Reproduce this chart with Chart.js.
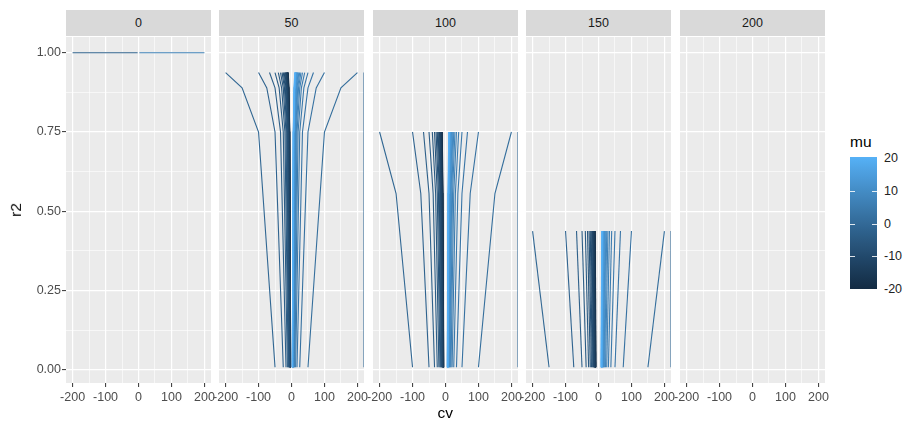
<!DOCTYPE html>
<html><head><meta charset="utf-8">
<script src="https://cdn.jsdelivr.net/npm/chart.js@4.4.0/dist/chart.umd.min.js"></script>
<style>
html,body{margin:0;padding:0;background:#fff;}
body{width:905px;height:424px;position:relative;overflow:hidden;font-family:'Liberation Sans',Arial,sans-serif;}
.pane{position:absolute;top:37px;}
.strip{position:absolute;top:10px;height:26px;line-height:26px;background:#D9D9D9;color:#1A1A1A;font-size:12.5px;text-align:center;}
.title{position:absolute;font-size:15.5px;color:#000;line-height:18px;white-space:nowrap;}
.leglab{position:absolute;left:884px;font-size:12.5px;color:#222;line-height:14px;height:14px;}
</style></head><body>
<script>
// ---------------- data ----------------
const facetLabels = ['0', '50', '100', '150', '200'];
const muNeg = [-20,-19,-18,-17,-16,-15,-14,-13,-12,-11,-10,-9,-8,-7,-6,-5,-4,-3,-2,-1];
const muPos = [1,2,3,4,5,6,7,8,9,10,11,12,13,14,15,16,17,18,19,20];
// cv of each mu line at the four vertices (rows follow muNeg / muPos)
const cvNegMu = [
  [-2.5,-5,-7.5,-10],[-2.6,-5.3,-7.9,-10.5],[-2.8,-5.6,-8.3,-11.1],[-2.9,-5.9,-8.8,-11.8],
  [-3.1,-6.3,-9.4,-12.5],[-3.3,-6.7,-10,-13.3],[-3.6,-7.1,-10.7,-14.3],[-3.8,-7.7,-11.5,-15.4],
  [-4.2,-8.3,-12.5,-16.7],[-4.5,-9.1,-13.6,-18.2],[-5,-10,-15,-20],[-5.6,-11.1,-16.7,-22.2],
  [-6.3,-12.5,-18.8,-25],[-7.1,-14.3,-21.4,-28.6],[-8.3,-16.7,-25,-33.3],[-10,-20,-30,-40],
  [-12.5,-25,-37.5,-50],[-16.7,-33.3,-50,-66.7],[-25,-50,-75,-100],[-50,-100,-150,-200]
];
const cvPosMu = [
  [50,100,150,200],[25,50,75,100],[16.7,33.3,50,66.7],[12.5,25,37.5,50],
  [10,20,30,40],[8.3,16.7,25,33.3],[7.1,14.3,21.4,28.6],[6.3,12.5,18.8,25],
  [5.6,11.1,16.7,22.2],[5,10,15,20],[4.5,9.1,13.6,18.2],[4.2,8.3,12.5,16.7],
  [3.8,7.7,11.5,15.4],[3.6,7.1,10.7,14.3],[3.3,6.7,10,13.3],[3.1,6.3,9.4,12.5],
  [2.9,5.9,8.8,11.8],[2.8,5.6,8.3,11.1],[2.6,5.3,7.9,10.5],[2.5,5,7.5,10]
];
// r2 of the four vertices in each facet (null = vertex not present)
const r2Facet50  = [0.008, 0.75, 0.889, 0.9375];
const r2Facet100 = [null, 0.008, 0.556, 0.75];
const r2Facet150 = [null, null, 0.008, 0.4375];
const r2Facet200 = [null, null, null, null];
// facet 0: horizontal lines at r2 = 1
const facet0Mu = [-3, 6];
const facet0CvStart = [-200, 2.5];
const facet0CvEnd = [-2.5, 200];
const facet0R2 = 1;
// mu = 0 gives cv = +Inf (drawn at the panel edge); r2 span per facet
const muZeroBottom = [null, 0.008, 0.008, 0.008, null];
const muZeroTop = [null, 0.9375, 0.75, 0.4375, null];
// axes
const xMajor = [-200, -100, 0, 100, 200];
const xMajorLabels = ['-200', '-100', '0', '100', '200'];
const xMinor = [-150, -50, 50, 150];
const yMajor = [0, 0.25, 0.5, 0.75, 1];
const yMajorLabels = ['0.00', '0.25', '0.50', '0.75', '1.00'];
const yMinor = [0.125, 0.375, 0.625, 0.875];
const xLimits = [-220, 220];
const yLimits = [-0.0416, 1.0496];
const legendBreaks = [20, 10, 0, -10, -20];
const muRange = [-20, 20];

// ---------------- colour (ggplot Lab gradient) ----------------
const LOW = '#132B43', HIGH = '#56B1F7';
function s2l(c){c/=255;return c<=0.04045?c/12.92:Math.pow((c+0.055)/1.055,2.4);}
function l2s(c){c=c<=0.0031308?12.92*c:1.055*Math.pow(c,1/2.4)-0.055;return Math.round(Math.max(0,Math.min(1,c))*255);}
function hexToLab(h){
  const r=s2l(parseInt(h.substr(1,2),16)),g=s2l(parseInt(h.substr(3,2),16)),b=s2l(parseInt(h.substr(5,2),16));
  let X=(0.4124*r+0.3576*g+0.1805*b)/0.95047,Y=(0.2126*r+0.7152*g+0.0722*b),Z=(0.0193*r+0.1192*g+0.9505*b)/1.08883;
  const f=t=>t>0.008856?Math.cbrt(t):7.787*t+16/116;
  const fx=f(X),fy=f(Y),fz=f(Z);
  return [116*fy-16,500*(fx-fy),200*(fy-fz)];
}
function labToHex(L,a,bb){
  const fy=(L+16)/116,fx=fy+a/500,fz=fy-bb/200;
  const fi=t=>{const t3=t*t*t;return t3>0.008856?t3:(t-16/116)/7.787;};
  const X=fi(fx)*0.95047,Y=fi(fy),Z=fi(fz)*1.08883;
  const r=3.2406*X-1.5372*Y-0.4986*Z,g=-0.9689*X+1.8758*Y+0.0415*Z,b=0.0557*X-0.2040*Y+1.0570*Z;
  return '#'+[r,g,b].map(v=>l2s(v).toString(16).padStart(2,'0')).join('');
}
const labLow=hexToLab(LOW), labHigh=hexToLab(HIGH);
function muColor(mu){
  const t=(mu-muRange[0])/(muRange[1]-muRange[0]);
  return labToHex(labLow[0]+(labHigh[0]-labLow[0])*t,labLow[1]+(labHigh[1]-labLow[1])*t,labLow[2]+(labHigh[2]-labLow[2])*t);
}

// ---------------- layout ----------------
const panelLefts = [66, 219, 373, 526, 680];
const panelW = 145, panelH = 346, axisH = 41, margin = 24;
Chart.defaults.font.family = "'Liberation Sans', Arial, sans-serif";
Chart.defaults.font.size = 12.5;

const bgPlugin = {
  id: 'panelBg',
  beforeDraw(chart){
    const a = chart.chartArea, c = chart.ctx;
    c.save(); c.fillStyle = '#EBEBEB'; c.fillRect(a.left, a.top, a.right - a.left, a.bottom - a.top); c.restore();
  }
};

function lineDs(points, mu){
  return {data: points, borderColor: muColor(mu), borderWidth: 1.1, pointRadius: 0,
          tension: 0, fill: false, order: -mu, clip: 0};
}

function buildDatasets(i){
  const ds = [];
  if (i === 0) {
    facet0Mu.forEach((mu, k) => ds.push(lineDs([{x: facet0CvStart[k], y: facet0R2}, {x: facet0CvEnd[k], y: facet0R2}], mu)));
    return ds;
  }
  const r2F = [null, r2Facet50, r2Facet100, r2Facet150, r2Facet200][i];
  const addRows = (mus, rows) => mus.forEach((mu, k) => {
    const pts = [];
    rows[k].forEach((cv, c) => { if (r2F[c] !== null) pts.push({x: cv, y: r2F[c]}); });
    if (pts.length > 1) ds.push(lineDs(pts, mu));
  });
  addRows(muNeg, cvNegMu);
  addRows(muPos, cvPosMu);
  if (muZeroTop[i] !== null) {
    ds.push(lineDs([{x: xLimits[1], y: muZeroBottom[i]}, {x: xLimits[1], y: muZeroTop[i]}], 0));
  }
  return ds;
}

function isMajor(v, arr){ return arr.some(m => Math.abs(m - v) < 1e-9); }

facetLabels.forEach((lab, i) => {
  const first = i === 0;
  const padL = first ? 0 : margin;
  const canvasLeft = first ? 0 : panelLefts[i] - margin;
  const yAxisW = first ? panelLefts[0] : 0;
  const w = padL + yAxisW + panelW + margin;
  const h = panelH + axisH;
  const div = document.createElement('div');
  div.className = 'pane';
  div.style.left = canvasLeft + 'px';
  div.style.width = w + 'px'; div.style.height = h + 'px';
  const cv = document.createElement('canvas');
  cv.width = w; cv.height = h;
  cv.style.width = w + 'px'; cv.style.height = h + 'px';
  div.appendChild(cv);
  document.body.appendChild(div);

  const strip = document.createElement('div');
  strip.className = 'strip';
  strip.style.left = panelLefts[i] + 'px'; strip.style.width = panelW + 'px';
  strip.textContent = lab;
  document.body.appendChild(strip);

  new Chart(cv, {
    type: 'line',
    data: {datasets: buildDatasets(i)},
    plugins: [bgPlugin],
    options: {
      responsive: false, animation: false, devicePixelRatio: 1, events: [],
      layout: {autoPadding: false, padding: {left: padL, right: margin, top: 0, bottom: 0}},
      plugins: {legend: {display: false}, tooltip: {enabled: false}},
      scales: {
        x: {
          type: 'linear', min: xLimits[0], max: xLimits[1],
          afterBuildTicks: s => { s.ticks = xMajor.concat(xMinor).sort((a,b)=>a-b).map(v => ({value: v})); },
          afterFit: s => { s.height = axisH; s.paddingLeft = 0; s.paddingRight = 0; },
          border: {display: false},
          grid: {
            color: '#FFFFFF',
            lineWidth: c => isMajor(c.tick.value, xMajor) ? 1.2 : 0.6,
            drawTicks: true, tickLength: 4, tickWidth: 1,
            tickColor: c => isMajor(c.tick.value, xMajor) ? '#333333' : 'rgba(0,0,0,0)'
          },
          ticks: {
            autoSkip: false, maxRotation: 0, minRotation: 0, padding: 3, color: '#4D4D4D',
            callback: v => { const k = xMajor.findIndex(m => Math.abs(m - v) < 1e-9); return k >= 0 ? xMajorLabels[k] : ''; }
          }
        },
        y: {
          type: 'linear', min: yLimits[0], max: yLimits[1],
          afterBuildTicks: s => { s.ticks = yMajor.concat(yMinor).sort((a,b)=>a-b).map(v => ({value: v})); },
          afterFit: s => { s.width = yAxisW; s.paddingTop = 0; s.paddingBottom = 0; },
          border: {display: false},
          grid: {
            color: '#FFFFFF',
            lineWidth: c => isMajor(c.tick.value, yMajor) ? 1.2 : 0.6,
            drawTicks: first, tickLength: 4, tickWidth: 1,
            tickColor: c => isMajor(c.tick.value, yMajor) ? '#333333' : 'rgba(0,0,0,0)'
          },
          ticks: {
            display: first, padding: 1, color: '#4D4D4D',
            callback: v => { const k = yMajor.findIndex(m => Math.abs(m - v) < 1e-9); return k >= 0 ? yMajorLabels[k] : ''; }
          }
        }
      }
    }
  });
});

// axis titles
const xt = document.createElement('div');
xt.className = 'title'; xt.textContent = 'cv';
xt.style.top = '404px';
document.body.appendChild(xt);
xt.style.left = (445.5 - xt.offsetWidth / 2) + 'px';

const yt = document.createElement('div');
yt.className = 'title'; yt.textContent = 'r2';
document.body.appendChild(yt);
const ytw = yt.offsetWidth;
yt.style.left = (15.6 - ytw / 2) + 'px';
yt.style.top = (210 - 9) + 'px';
yt.style.transform = 'rotate(-90deg)';

// legend (colour bar)
const legT = document.createElement('div');
legT.className = 'title'; legT.textContent = 'mu';
legT.style.left = '850px'; legT.style.top = '133px';
document.body.appendChild(legT);
const barTop = 157, barH = 132, barLeft = 850, barW = 27;
const bar = document.createElement('div');
bar.style.cssText = `position:absolute;left:${barLeft}px;top:${barTop}px;width:${barW}px;height:${barH}px;`;
const stops = [];
for (let k = 0; k <= 20; k++) { const mu = muRange[1] - k * 2; stops.push(muColor(mu) + ' ' + (k * 5) + '%'); }
bar.style.background = 'linear-gradient(to bottom,' + stops.join(',') + ')';
document.body.appendChild(bar);
const muToY = mu => 158.2 + (muRange[1] - mu) / (muRange[1] - muRange[0]) * (288.8 - 158.2);
legendBreaks.forEach(b => {
  const y = muToY(b);
  if (b !== muRange[0] && b !== muRange[1]) {
    [barLeft, barLeft + barW - 5].forEach(x => {
      const t = document.createElement('div');
      t.style.cssText = `position:absolute;left:${x}px;top:${Math.round(y) - 0.5}px;width:5px;height:1px;background:rgba(255,255,255,0.85);`;
      document.body.appendChild(t);
    });
  }
  const l = document.createElement('div');
  l.className = 'leglab'; l.textContent = String(b);
  l.style.top = (y - 7) + 'px';
  document.body.appendChild(l);
});
</script>
</body></html>
